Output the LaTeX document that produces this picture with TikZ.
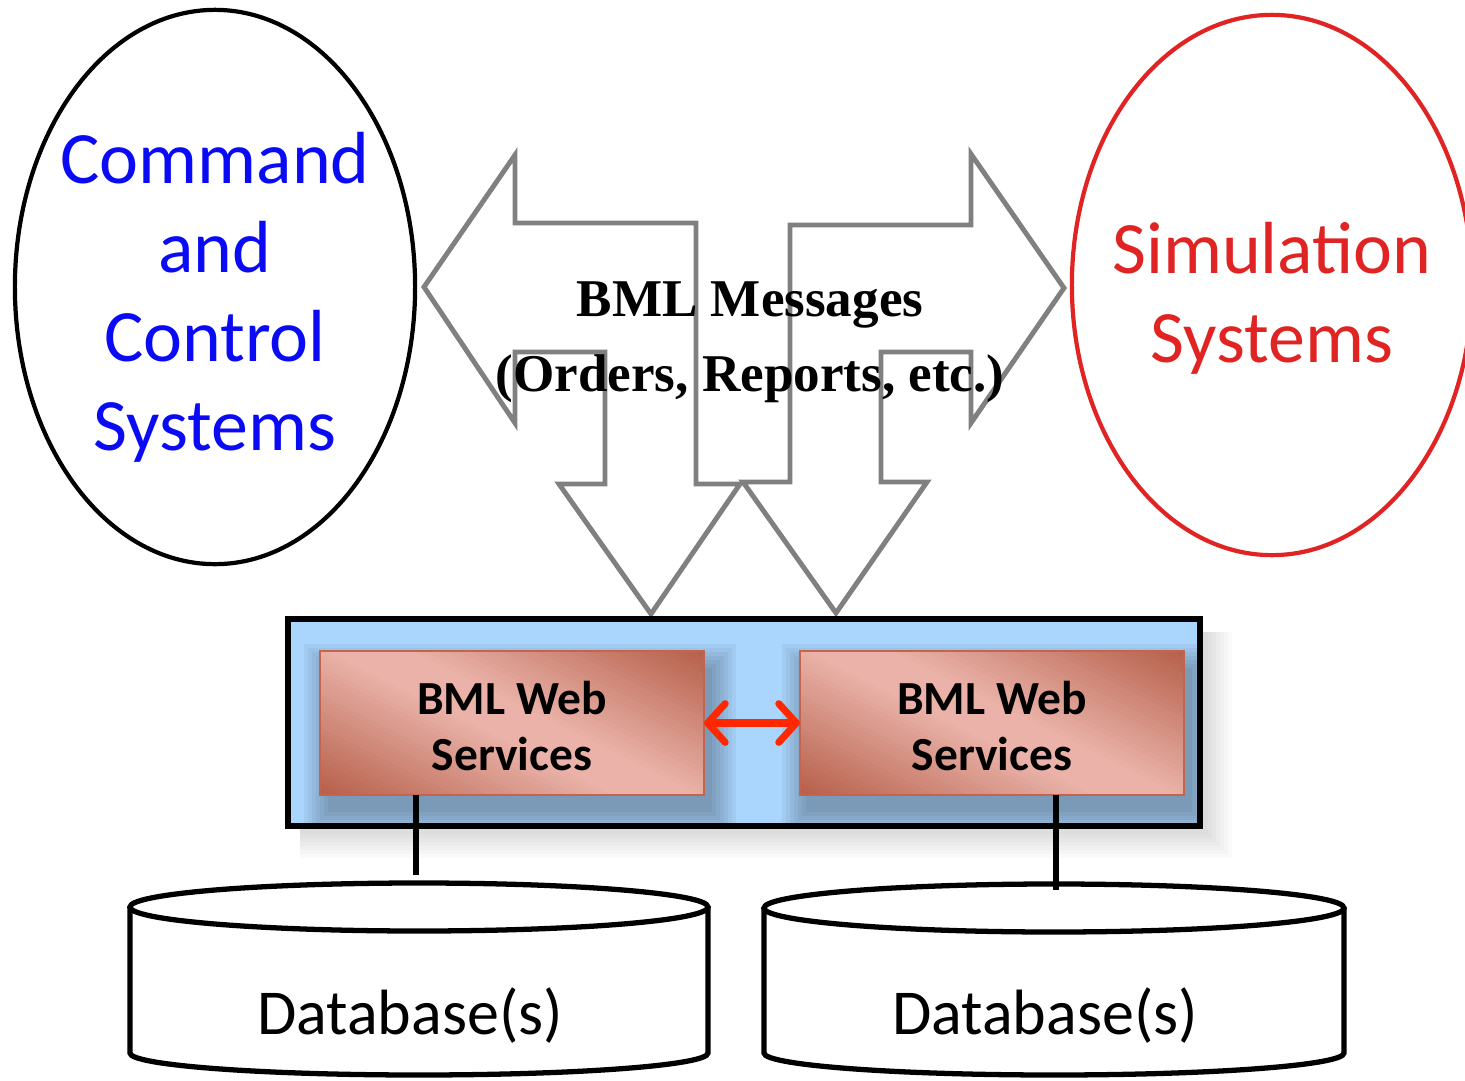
\documentclass[tikz,border=0pt]{standalone}
\usepackage{fontspec}
\setmainfont{Carlito}
\newfontfamily\msgfont{Liberation Serif}
\usetikzlibrary{shapes.geometric,arrows.meta}
\definecolor{arrowgray}{RGB}{128,128,128}
\definecolor{busblue}{RGB}{170,213,253}
\definecolor{cmdblue}{RGB}{10,10,245}
\definecolor{simred}{RGB}{224,36,36}
\definecolor{linkred}{RGB}{255,40,0}
\definecolor{wsdark}{RGB}{182,96,74}
\definecolor{wslight}{RGB}{234,178,169}
\definecolor{wsedge}{RGB}{196,100,78}
% diagonal gradient fill for a 384x144 web-service box centred at (#1,#2)
\newcommand\wsgradfill[2]{%
  \begin{scope}
    \clip (#1-192,#2-72) rectangle (#1+192,#2+72);
    \foreach \k in {-32,...,31} {
      \pgfmathsetmacro\sa{\k*5}
      \pgfmathsetmacro\sb{\k*5+5.8}
      \pgfmathsetmacro\sm{abs(\k*5+2.5)}
      \pgfmathtruncatemacro\pl{max(0,min(100,100-(\sm-18)/132*100))}
      \fill[wslight!\pl!wsdark]
        ({#1-0.447*\sa-223.6},{#2+0.894*\sa-111.8}) --
        ({#1-0.447*\sa+223.6},{#2+0.894*\sa+111.8}) --
        ({#1-0.447*\sb+223.6},{#2+0.894*\sb+111.8}) --
        ({#1-0.447*\sb-223.6},{#2+0.894*\sb-111.8}) -- cycle;
    }
  \end{scope}}
\begin{document}
\begin{tikzpicture}[x=0.01cm,y=-0.01cm,
  every node/.style={inner sep=0pt,outer sep=0pt},
  sysell/.style={ellipse,draw,line width=1.2pt,minimum width=4cm},
  systext/.style={font=\fontsize{21pt}{25.3pt}\selectfont,align=center},
  garrow/.style={draw=arrowgray,line width=1.4pt,line join=miter,fill=white},
  msgtext/.style={font=\msgfont\bfseries\fontsize{15.1pt}{21.3pt}\selectfont,align=center},
  wsbox/.style={draw=wsedge,line width=0.6pt,minimum width=3.84cm,minimum height=1.44cm,
    font=\bfseries\fontsize{13.5pt}{16.2pt}\selectfont},
  linkarrow/.style={draw=linkred,line width=2pt,
    {Straight Barb[length=5pt,width=11pt,round]}-{Straight Barb[length=5pt,width=11pt,round]}},
  wire/.style={draw=black,line width=1.7pt},
  dbline/.style={draw=black,line width=1.5pt,fill=white},
  dbtext/.style={font=\fontsize{18.2pt}{21pt}\selectfont},
  bshadow/.style={fill=black,opacity=0.045},
  cshadow/.style={fill=black,opacity=0.02}
]
\useasboundingbox (0,0) rectangle (1465,1081);

% system ellipses
\node[sysell,draw=black,minimum height=5.54cm] (c2) at (215,287) {};
\node[systext,text=cmdblue] (c2t) at (215,297) {Command\\and\\Control\\Systems};
\node[sysell,draw=simred,minimum height=5.40cm] (sim) at (1272,285) {};
\node[systext,text=simred] (simt) at (1272,298) {Simulation\\Systems};

% bent arrows
\draw[garrow] (424,287) -- (515,155) -- (515,223) -- (696,223) -- (696,484)
  -- (740,484) -- (651,614) -- (559,484) -- (605,484) -- (605,352)
  -- (515,352) -- (515,423) -- cycle;
\draw[garrow] (1064,288) -- (971,154) -- (971,225) -- (790,225) -- (790,482)
  -- (743,482) -- (836,613) -- (927,482) -- (881,482) -- (881,352)
  -- (971,352) -- (971,423) -- cycle;
\node[msgtext] (msg) at (750,342) {BML Messages\\(Orders, Reports, etc.)};

% container shadow
\foreach \i in {0,...,6} \fill[cshadow] (300,632) rectangle (1208+\i*4,834+\i*4);
% container
\fill[busblue] (288,619) rectangle (1200,826);
\begin{scope}
  \clip (288,619) rectangle (1200,826);
  \foreach \i in {0,...,6} \fill[bshadow] (328-\i*4,668-\i*4) rectangle (712+\i*4,812+\i*4);
  \foreach \i in {0,...,6} \fill[bshadow] (806-\i*4,668-\i*4) rectangle (1192+\i*4,812+\i*4);
\end{scope}
\node[draw=black,line width=1.7pt,minimum width=9.12cm,minimum height=2.07cm] (bus) at (744,722.5) {};

% web service boxes
\wsgradfill{512}{723}
\wsgradfill{992}{723}
\node[wsbox] (ws1) at (512,723) {\raisebox{-2.3pt}[\height][\depth]{\begin{tabular}{@{}c@{}}BML Web\\Services\end{tabular}}};
\node[wsbox] (ws2) at (992,723) {\raisebox{-2.3pt}[\height][\depth]{\begin{tabular}{@{}c@{}}BML Web\\Services\end{tabular}}};
\draw[linkarrow] (ws1.east) -- (ws2.west);

% databases
\draw[dbline] (130,907) -- (130,1053) arc[start angle=180,end angle=0,x radius=289,y radius=22] -- (708,907);
\draw[dbline] (419,907) ellipse [x radius=289,y radius=24];
\node[dbtext] (db1) at (410,1016) {Database(s)};
\coordinate (db1top) at (416,875);

\draw[dbline] (764,908) -- (764,1053) arc[start angle=180,end angle=0,x radius=290,y radius=22] -- (1344,908);
\draw[dbline] (1054,908) ellipse [x radius=290,y radius=24];
\node[dbtext] (db2) at (1045,1016) {Database(s)};
\coordinate (db2top) at (1056,890);

\draw[wire] (ws1.south -| db1top) -- (db1top);
\draw[wire] (ws2.south -| db2top) -- (db2top);
\end{tikzpicture}
\end{document}
